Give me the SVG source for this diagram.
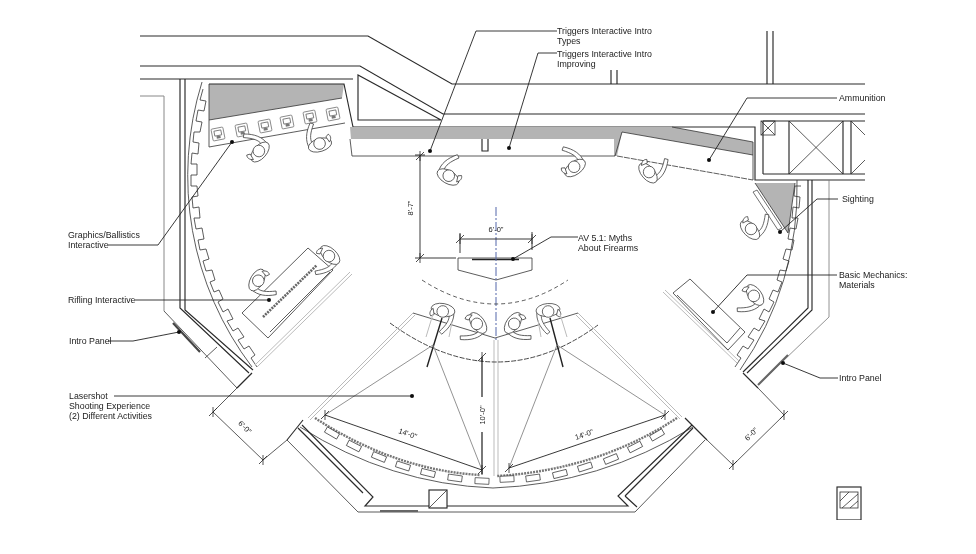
<svg xmlns="http://www.w3.org/2000/svg" xmlns:xlink="http://www.w3.org/1999/xlink" width="976" height="554" viewBox="0 0 976 554">
<style>
.w{fill:none;stroke:#2a2a2a;stroke-width:1.15}
.t{fill:none;stroke:#333;stroke-width:.8}
.g{fill:none;stroke:#bbb;stroke-width:1}
.m{fill:none;stroke:#777;stroke-width:.8}
.f{fill:#b4b4b4;stroke:none}
.p{fill:#fff;stroke:#333;stroke-width:.7}
.d{fill:#111}
.l{fill:none;stroke:#222;stroke-width:.9}
text{font-family:"Liberation Sans",Arial,sans-serif;font-size:8.8px;fill:#222}
.s{font-size:7.5px}
</style>
<defs>
<filter id="soft" x="0" y="0" width="100%" height="100%"><feGaussianBlur stdDeviation="0.3"/></filter>
<circle id="dot" r="2" class="d"/>
<g id="person">
<path class="p" d="M0,-11 C8,-13 16,-10 24,-3 L22,0 C14,-6 9,-8 4,-7Z"/>
<ellipse class="p" cx="0" cy="0" rx="6.5" ry="12"/>
<circle class="p" cx="1.5" cy="0" r="5.8"/>
<path class="p" d="M0,10 C3,13 6,13 8,11 L6,8Z"/>
</g>
<g id="monitor">
<rect x="-6" y="-6" width="12" height="12" rx="1" fill="#fff" stroke="#777" stroke-width=".8"/>
<rect x="-3.5" y="-3.5" width="7" height="5" fill="none" stroke="#555" stroke-width=".7"/>
<rect x="-2" y="2" width="4" height="2.5" fill="#777"/>
</g>
<path id="tick" d="M-4,4 L4,-4 M0,-5 L0,5" fill="none" stroke="#222" stroke-width=".8"/>
</defs>
<rect width="976" height="554" fill="#fff"/>
<g filter="url(#soft)">

<!-- building shell -->
<path class="w" d="M140,36 H368 L452,84 H865"/>
<path class="w" d="M140,66 H360 L443,114 H865"/>
<path class="w" d="M140,79 H353"/>
<path class="w" d="M611,70 V84 M617,70 V84 M767,31 V84 M773,31 V84"/>
<path class="w" d="M358,75 V120 H441 Z"/>
<path class="w" d="M353,127 H755 V180 H865"/>
<path class="w" d="M763,121 H865 M763,174 H865 M763,121 V174"/>
<rect x="761" y="121" width="14" height="14" class="t"/>
<path class="t" d="M761,121 L775,135 M775,121 L761,135"/>
<path class="t" d="M789,121 L843,174 M843,121 L789,174"/>
<path class="w" d="M789,121 V174 M843,121 V174 M851,121 V174"/>
<path class="t" d="M851,121 L865,135 M851,174 L865,160"/>

<!-- left wall -->
<path class="w" d="M180,79 V308 L249,373 M185,79 V310 L253,370"/>
<path class="g" d="M140,96 H164 V311" style="stroke:#888"/>
<path class="t" d="M164,311 L237,388 M205,358 L217,347"/>
<path d="M173,323 L200,352" fill="none" stroke="#444" stroke-width="2.2"/>
<path class="w" d="M237,388 L252,373"/>
<path class="t" d="M202,82 A316,316 0 0 0 252,367"/>
<path class="t" d="M203,89 L200,100 L206,101 L204,111 L198,110 L196,121 L202,122 L200,132 L194,132 L193,142 L199,143 L198,154 L192,153 L191,164 L197,164 L197,175 L191,175 L191,186 L197,186 L198,196 L192,197 L193,208 L199,207 L200,218 L194,218 L196,229 L202,228 L204,239 L198,240 L200,250 L206,249 L209,259 L203,261 L206,271 L212,270 L215,280 L210,282 L214,292 L219,290 L223,299 L218,302 L223,312 L228,309 L233,319 L227,321 L233,331 L238,328 L244,337 L238,340 L244,349 L249,346 L255,355 L251,358 L257,367"/>
<path class="g" d="M255,365 L350,272 M257,367 L352,274"/>

<!-- right wall -->
<path class="w" d="M808,180 V308 L743,372 M812,180 V310 L747,373"/>
<path class="m" d="M829,180 V317 L758,385"/>
<path d="M758,385 L788,355" fill="none" stroke="#666" stroke-width="2.2"/>
<path class="t" d="M797,180 A316,316 0 0 1 740,370"/>
<path class="t" d="M801,186 L795,186 L794,196 L800,197 L799,208 L793,207 L792,218 L798,218 L796,229 L790,228 L788,239 L794,240 L792,250 L786,249 L783,259 L789,261 L786,271 L780,270 L777,280 L782,282 L778,292 L773,290 L769,299 L774,302 L769,312 L764,309 L759,319 L765,321 L759,331 L754,328 L748,337 L754,340 L748,349 L743,346 L737,355 L741,358 L735,367"/>
<path class="g" d="M663,292 L737,363 M665,290 L739,361"/>
<path class="w" d="M743,373 L758,388 M685,418 L707,440"/>

<!-- walls behind exhibits -->
<path class="f" d="M209,84 H344 L342,98 L209,120Z"/>
<path class="w" d="M209,84 H344 L353,127"/>
<path class="t" d="M209,84 V147 L345,123 M209,120 L342,98"/>
<path class="f" d="M350,127 H672 L753,142 V155 L622,132 L617,156 H614 V139 H351Z"/>
<path class="t" d="M350,139 L352,156 H615 L622,132 L753,155 M672,127 L753,142 M753,142 V180"/>
<path class="t" d="M617,156 L753,180" stroke-dasharray="6 1"/>
<path class="w" d="M482,139 V151 H488 V139"/>
<path class="f" d="M755,183 H795 L788,233Z"/>
<path class="t" d="M755,183 L788,233 L795,183"/>
<path class="p" d="M753,192 L757,190 L782,228 L778,230Z"/>

<!-- monitors -->
<use xlink:href="#monitor" href="#monitor" transform="translate(218,134) rotate(-11)"/>
<use xlink:href="#monitor" href="#monitor" transform="translate(242,130) rotate(-11)"/>
<use xlink:href="#monitor" href="#monitor" transform="translate(265,126) rotate(-11)"/>
<use xlink:href="#monitor" href="#monitor" transform="translate(287,122) rotate(-11)"/>
<use xlink:href="#monitor" href="#monitor" transform="translate(310,117) rotate(-11)"/>
<use xlink:href="#monitor" href="#monitor" transform="translate(333,114) rotate(-11)"/>

<!-- tables -->
<path class="t" d="M242,313 L308,248 L333,270 L268,338Z M270,332 L330,272"/>
<path d="M263,317 L317,265" fill="none" stroke="#666" stroke-width="2.6" stroke-dasharray="2 1"/>
<path class="t" d="M673,293 L690,279 L745,332 L728,350Z M677,295 L727,343 L740,328"/>

<!-- AV screen -->
<path class="t" d="M458,258 V270 L496,280 L532,270 V258 H458Z"/>
<path d="M472,259.5 H519" fill="none" stroke="#222" stroke-width="1.4"/>
<path d="M496,207 V340" fill="none" stroke="#5566aa" stroke-width="1" stroke-dasharray="9 2 2 2"/>
<path class="g" d="M494,340 V476 M498,340 V476"/>
<path d="M422,280 Q496,328 568,280" fill="none" stroke="#333" stroke-width=".8" stroke-dasharray="4 3"/>
<path class="t" d="M413,313 L495,338 L578,313"/>
<path d="M390,323 Q496,400 598,325" fill="none" stroke="#333" stroke-width=".9" stroke-dasharray="5 1.5"/>
<path class="g" d="M413,313 L308,418 M415,315 L310,420 M578,313 L682,417 M576,315 L680,419"/>

<!-- people -->
<g id="people">
<use xlink:href="#person" href="#person" transform="translate(260,152) rotate(-139) scale(1,-1)"/>
<use xlink:href="#person" href="#person" transform="translate(320,145) rotate(-107)"/>
<use xlink:href="#person" href="#person" transform="translate(448,177) rotate(-60)"/>
<use xlink:href="#person" href="#person" transform="translate(575,168) rotate(-126) scale(1,-1)"/>
<use xlink:href="#person" href="#person" transform="translate(648,173) rotate(-41) scale(1,-1)"/>
<use xlink:href="#person" href="#person" transform="translate(750,230) rotate(-46) scale(1,-1)"/>
<use xlink:href="#person" href="#person" transform="translate(755,295) rotate(144)"/>
<use xlink:href="#person" href="#person" transform="translate(257,280) rotate(30) scale(1,-1)"/>
<use xlink:href="#person" href="#person" transform="translate(330,255) rotate(133)"/>
<use xlink:href="#person" href="#person" transform="translate(443,310) rotate(100)"/>
<use xlink:href="#person" href="#person" transform="translate(478,323) rotate(144)"/>
<use xlink:href="#person" href="#person" transform="translate(513,323) rotate(35) scale(1,-1)"/>
<use xlink:href="#person" href="#person" transform="translate(548,310) rotate(85) scale(1,-1)"/>
</g>

<!-- laser stations -->
<path d="M442,318 L427,367 M550,318 L563,367" fill="none" stroke="#222" stroke-width="1.4"/>
<path class="g" d="M426,337 L433,314 M449,337 L452,322 M541,337 L538,320 M567,337 L560,314"/>
<path class="m" d="M433,345 L325,415 M433,345 L482,470 M557,345 L665,415 M557,345 L509,468"/>

<!-- screens -->
<path d="M315,418 Q395,470 480,475" fill="none" stroke="#777" stroke-width="2.4" stroke-dasharray="2 1"/>
<path d="M677,418 Q597,470 497,476" fill="none" stroke="#777" stroke-width="2.4" stroke-dasharray="2 1"/>
<g fill="#fff" stroke="#333" stroke-width=".7">
<rect x="-7" y="-3" width="14" height="6" transform="translate(332,433) rotate(30)"/>
<rect x="-7" y="-3" width="14" height="6" transform="translate(354,446) rotate(27)"/>
<rect x="-7" y="-3" width="14" height="6" transform="translate(379,457) rotate(22)"/>
<rect x="-7" y="-3" width="14" height="6" transform="translate(403,466) rotate(18)"/>
<rect x="-7" y="-3" width="14" height="6" transform="translate(428,473) rotate(14)"/>
<rect x="-7" y="-3" width="14" height="6" transform="translate(455,478) rotate(8)"/>
<rect x="-7" y="-3" width="14" height="6" transform="translate(482,481) rotate(3)"/>
<rect x="-7" y="-3" width="14" height="6" transform="translate(507,479) rotate(-3)"/>
<rect x="-7" y="-3" width="14" height="6" transform="translate(533,478) rotate(-8)"/>
<rect x="-7" y="-3" width="14" height="6" transform="translate(560,474) rotate(-14)"/>
<rect x="-7" y="-3" width="14" height="6" transform="translate(585,467) rotate(-18)"/>
<rect x="-7" y="-3" width="14" height="6" transform="translate(611,459) rotate(-22)"/>
<rect x="-7" y="-3" width="14" height="6" transform="translate(635,447) rotate(-27)"/>
<rect x="-7" y="-3" width="14" height="6" transform="translate(657,435) rotate(-30)"/>
</g>
<path class="t" d="M300,427 Q390,484 493,488 Q600,484 693,427"/>

<!-- south walls -->
<path class="t" d="M287,440 L358,512 H635 L705,440"/>
<path class="w" d="M302,425 L373,497 L365,506 H628 L618,496 L692,425 M298,428 L363,493 M625,496 L693,428 M625,496 L637,507"/>
<path class="w" d="M287,440 L303,420"/>
<path d="M380,511 H418" fill="none" stroke="#666" stroke-width="2"/>
<rect x="429" y="490" width="18" height="18" class="w" style="fill:#fff"/>
<path class="t" d="M429,508 L447,490"/>
<rect x="837" y="487" width="24" height="33" class="w"/>
<rect x="840" y="492" width="18" height="16" class="t"/>
<path class="t" d="M840,501 L849,492 M842,508 L858,494 M850,508 L858,501"/>

<!-- dimensions -->
<g id="dimensions">
<path class="t" d="M237,388 L213,412 L263,460 L287,440"/>
<path class="t" d="M758,388 L784,415 L733,465 L707,440"/>
<path class="l" d="M420,155 V258 M415,258 H456 M415,155 H425"/>
<path class="l" d="M460,239 H532 M460,233 V253 M532,232 V250"/>
<path class="l" d="M325,415 L482,470 M509,468 L665,415"/>
<path d="M482,357 V397 M482,432 V474" fill="none" stroke="#222" stroke-width="1.2"/>
<use xlink:href="#tick" href="#tick" x="213" y="412"/>
<use xlink:href="#tick" href="#tick" x="263" y="460"/>
<use xlink:href="#tick" href="#tick" x="784" y="415"/>
<use xlink:href="#tick" href="#tick" x="733" y="465"/>
<use xlink:href="#tick" href="#tick" x="420" y="156"/>
<use xlink:href="#tick" href="#tick" x="420" y="258"/>
<use xlink:href="#tick" href="#tick" x="460" y="239"/>
<use xlink:href="#tick" href="#tick" x="532" y="239"/>
<use xlink:href="#tick" href="#tick" x="325" y="415"/>
<use xlink:href="#tick" href="#tick" x="482" y="470"/>
<use xlink:href="#tick" href="#tick" x="509" y="468"/>
<use xlink:href="#tick" href="#tick" x="665" y="415"/>
<use xlink:href="#tick" href="#tick" x="482" y="357"/>
<text class="s" text-anchor="middle" transform="translate(413,208) rotate(-90)">8'-7"</text>
<text class="s" text-anchor="middle" x="496" y="232">6'-0"</text>
<text class="s" text-anchor="middle" transform="translate(243,429) rotate(45)">6'-0"</text>
<text class="s" text-anchor="middle" transform="translate(753,436) rotate(-45)">6'-0"</text>
<text class="s" text-anchor="middle" transform="translate(407,436) rotate(19)">14'-0"</text>
<text class="s" text-anchor="middle" transform="translate(585,437) rotate(-19)">14'-0"</text>
<text class="s" text-anchor="middle" transform="translate(485,415) rotate(-90)">10'-0"</text>
</g>

<!-- connectors -->
<g id="connectors">
<path class="l" d="M430,151 L476,31 H557"/><use xlink:href="#dot" href="#dot" x="430" y="151"/>
<path class="l" d="M509,148 L538,53 H557"/><use xlink:href="#dot" href="#dot" x="509" y="148"/>
<path class="l" d="M709,160 L747,98 H837"/><use xlink:href="#dot" href="#dot" x="709" y="160"/>
<path class="l" d="M780,232 L817,199 H838"/><use xlink:href="#dot" href="#dot" x="780" y="232"/>
<path class="l" d="M713,312 L747,275 H837"/><use xlink:href="#dot" href="#dot" x="713" y="312"/>
<path class="l" d="M783,363 L820,378 H838"/><use xlink:href="#dot" href="#dot" x="783" y="363"/>
<path class="l" d="M513,259 L551,237 H578"/><use xlink:href="#dot" href="#dot" x="513" y="259"/>
<path class="l" d="M232,142 L158,245 H108"/><use xlink:href="#dot" href="#dot" x="232" y="142"/>
<path class="l" d="M269,300 H135"/><use xlink:href="#dot" href="#dot" x="269" y="300"/>
<path class="l" d="M179,332 L133,341 H108"/><use xlink:href="#dot" href="#dot" x="179" y="332"/>
<path class="l" d="M412,396 H114"/><use xlink:href="#dot" href="#dot" x="412" y="396"/>
</g>

<!-- labels -->
<g id="labels">
<text x="557" y="34">Triggers Interactive Intro</text>
<text x="557" y="44">Types</text>
<text x="557" y="57">Triggers Interactive Intro</text>
<text x="557" y="67">Improving</text>
<text x="839" y="101">Ammunition</text>
<text x="842" y="202">Sighting</text>
<text x="578" y="241">AV 5.1: Myths</text>
<text x="578" y="251">About Firearms</text>
<text x="839" y="278">Basic Mechanics:</text>
<text x="839" y="288">Materials</text>
<text x="839" y="381">Intro Panel</text>
<text x="68" y="238">Graphics/Ballistics</text>
<text x="68" y="248">Interactive</text>
<text x="68" y="303">Rifling Interactive</text>
<text x="69" y="344">Intro Panel</text>
<text x="69" y="399">Lasershot</text>
<text x="69" y="409">Shooting Experience</text>
<text x="69" y="419">(2) Different Activities</text>
</g>
</g>
</svg>
